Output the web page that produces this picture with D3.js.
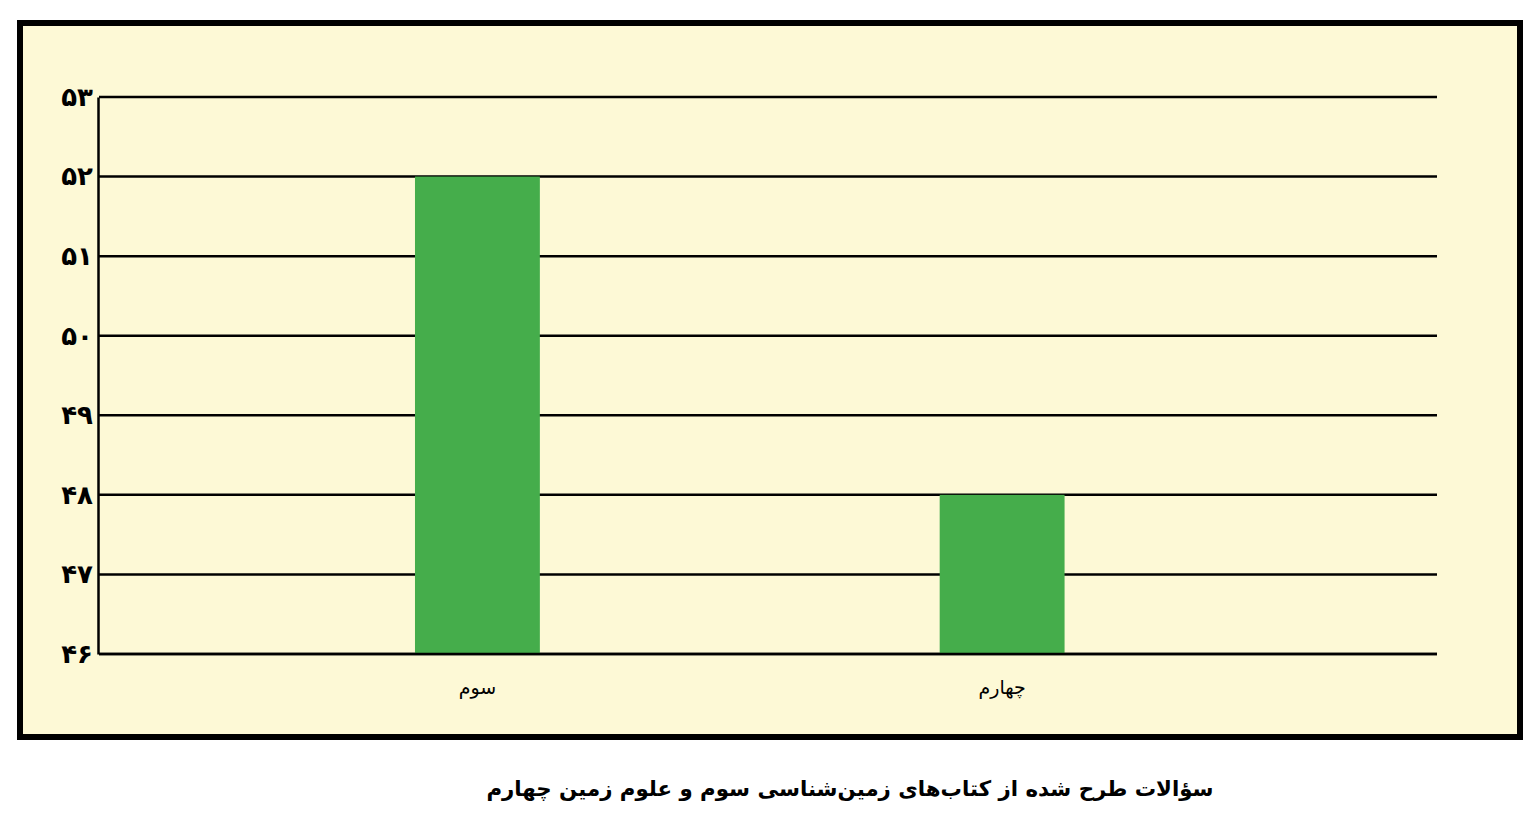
<!DOCTYPE html>
<html><head><meta charset="utf-8">
<script src="https://cdn.jsdelivr.net/npm/d3@7"></script>
<style>
html,body{margin:0;padding:0;background:#fff;}
svg{display:block;}
</style>
</head><body>
<svg id="c" width="1527" height="813"></svg>
<script>
const categories = ["سوم", "چهارم"];
const values = [52, 48];
const yTicks = [46, 47, 48, 49, 50, 51, 52, 53];
const yTickLabels = ["۴۶", "۴۷", "۴۸", "۴۹", "۵۰", "۵۱", "۵۲", "۵۳"];
const title = "سؤالات طرح شده از کتاب‌های زمین‌شناسی سوم و علوم زمین چهارم";

const svg = d3.select("#c");
const font = "'DejaVu Sans', sans-serif";

// frame
svg.append("rect").attr("x", 20).attr("y", 23).attr("width", 1500).attr("height", 714)
  .attr("fill", "#fdf9d6").attr("stroke", "#000").attr("stroke-width", 6);

const x0 = 99, x1 = 1437, yTop = 97, yBot = 654;
const x = d3.scaleBand().domain(categories).range([x0, x1])
  .paddingInner(0.762).paddingOuter(0.656).align(0.459);
const y = d3.scaleLinear().domain([46, 53]).range([yBot, yTop]);

// gridlines
svg.append("g").selectAll("line").data(yTicks).join("line")
  .attr("x1", x0).attr("x2", x1)
  .attr("y1", d => y(d)).attr("y2", d => y(d))
  .attr("stroke", "#000").attr("stroke-width", 2.5);

// bars
svg.append("g").selectAll("rect").data(values).join("rect")
  .attr("x", (d, i) => x(categories[i]))
  .attr("width", x.bandwidth())
  .attr("y", d => y(d))
  .attr("height", d => y(46) - y(d))
  .attr("fill", "#45ad4b");

// baseline redraw
svg.append("line").attr("x1", x0).attr("x2", x1).attr("y1", y(46)).attr("y2", y(46))
  .attr("stroke", "#000").attr("stroke-width", 2.5);

// y axis
const yAxis = d3.axisLeft(y).tickValues(yTicks).tickSize(0).tickPadding(5)
  .tickFormat((d, i) => yTickLabels[i]);
const ga = svg.append("g").attr("transform", `translate(${x0 - 1},0)`).call(yAxis);
ga.select(".domain").attr("stroke", "#000").attr("stroke-width", 2.5);
ga.selectAll("text").attr("font-family", font).attr("font-weight", "bold")
  .attr("font-size", 26).attr("fill", "#000");

// x labels
const xAxis = d3.axisBottom(x).tickSize(0).tickPadding(27);
const gx = svg.append("g").attr("transform", `translate(0,${yBot})`).call(xAxis);
gx.select(".domain").remove();
gx.selectAll("text").attr("font-family", font).attr("font-size", 19).attr("fill", "#000")
  .attr("direction", "rtl");

// title
svg.append("text").attr("x", 850).attr("y", 796).attr("text-anchor", "middle")
  .attr("font-family", font).attr("font-weight", "bold").attr("font-size", 21.3)
  .attr("direction", "rtl")
  .text(title);
</script>
</body></html>
